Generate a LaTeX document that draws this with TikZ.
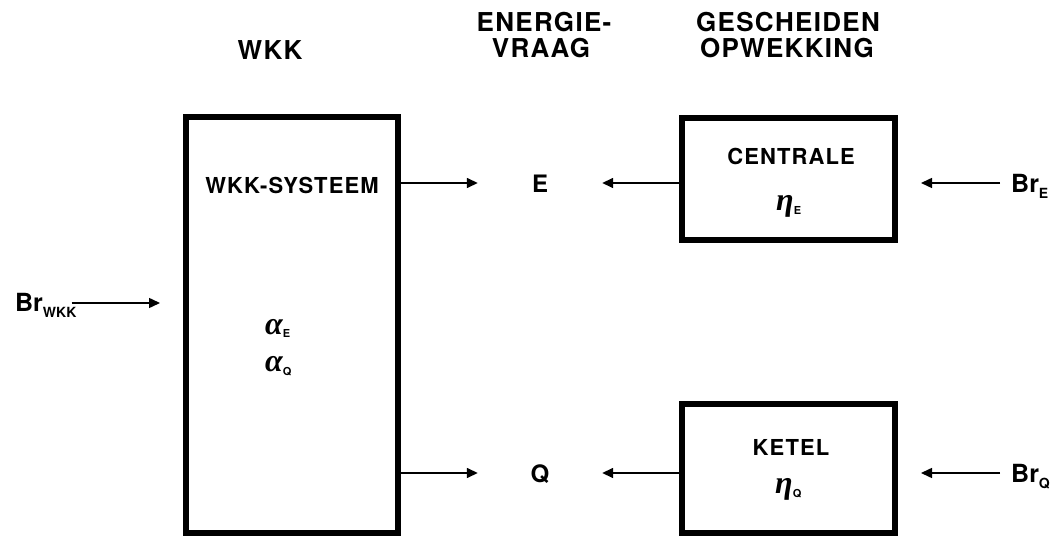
\documentclass[tikz,border=0pt]{standalone}
\usepackage{fontspec}
\setmainfont{TeX Gyre Heros}
\newfontfamily\hvhead[LetterSpace=5]{TeX Gyre Heros}
\newfontfamily\hvlab[LetterSpace=5]{TeX Gyre Heros}
\newfontfamily\grkfont{Liberation Serif}
\usetikzlibrary{arrows.meta}
\newcommand\grsub[2]{\raisebox{#1}{\fontsize{11}{11}\selectfont\upshape\sffamily\rmfamily\bfseries #2}}
\newcommand\brsub[1]{\raisebox{-6pt}{\fontsize{14}{14}\selectfont\bfseries #1}}
\tikzset{
  blockbox/.style={draw, line width=6pt, inner sep=0pt},
  arr/.style={line width=1.5pt, -{Triangle[length=11pt,width=10pt]}},
  headtxt/.style={inner sep=0pt, anchor=base, font=\hvhead\bfseries\fontsize{26}{26}\selectfont},
  labtxt/.style={inner sep=0pt, anchor=base, font=\hvlab\bfseries\fontsize{22}{22}\selectfont},
  flowtxt/.style={inner sep=0pt, anchor=base, text height=20pt, text depth=0pt, minimum width=124pt, font=\bfseries\fontsize{24}{24}\selectfont},
  brtxt/.style={inner sep=0pt, text depth=0pt, font=\bfseries\fontsize{25}{25}\selectfont},
  greek/.style={inner sep=0pt, anchor=base west}
}
\newcommand\grk[1]{{\grkfont\bfseries\itshape\fontsize{32}{32}\selectfont #1}}
\begin{document}
\begin{tikzpicture}[x=1pt,y=1pt]
\useasboundingbox (0,0) rectangle (1061,536);
% boxes
\node[blockbox, minimum width=212pt, minimum height=415.5pt] (wkk) at (292,210.75) {};
\node[blockbox, minimum width=213pt, minimum height=122pt] (centrale) at (788,357) {};
\node[blockbox, minimum width=213pt, minimum height=128.5pt] (ketel) at (788,67.25) {};
% headers
\node[headtxt] (hwkk) at (270,476.5) {WKK};
\node[headtxt] (hen1) at (544,504) {ENERGIE-};
\node[headtxt] (hen2) at (541,478) {VRAAG};
\node[headtxt] (hge1) at (788,504) {GESCHEIDEN};
\node[headtxt] (hge2) at (787,478) {OPWEKKING};
% labels in boxes
\node[labtxt] (lwkk) at (292,342.5) {WKK-SYSTEEM};
\node[greek] (aE) at (265,201) {\grk{α}\grsub{-3pt}{E}};
\node[greek] (aQ) at (265,164) {\grk{α}\grsub{-4pt}{Q}};
\node[labtxt] (lcen) at (791,371) {CENTRALE};
\node[greek] (eE) at (776,325.5) {\grk{η}\grsub{-4.5pt}{E}};
\node[labtxt] (lket) at (791,81) {KETEL};
\node[greek] (eQ) at (775,43) {\grk{η}\grsub{-4.5pt}{Q}};
% energy demand
\node[flowtxt] (E) at (540,343) {E};
\node[flowtxt] (Q) at (540,53) {Q};
% fuel inputs
\node[brtxt, anchor=base west, text height=20pt] (brE) at (1011,343) {Br\brsub{E}};
\node[brtxt, anchor=base west, text height=20pt] (brQ) at (1011,53) {Br\brsub{Q}};
\node[brtxt, anchor=base west, text height=18pt] (brW) at (15,224) {Br\brsub{WKK}};
% connectors
\draw[arr] (wkk.east |- E.west) -- (E.west);
\draw[arr] (wkk.east |- Q.west) -- (Q.west);
\draw[arr] (centrale.west |- E.east) -- (E.east);
\draw[arr] (ketel.west |- Q.east) -- (Q.east);
\draw[arr, shorten <=11pt, shorten >=23.5pt] (brE.west) -- (brE.west -| centrale.east);
\draw[arr, shorten <=11pt, shorten >=23.5pt] (brQ.west) -- (brQ.west -| ketel.east);
\draw[arr, shorten <=-5pt, shorten >=23pt] (brW.east) -- (brW.east -| wkk.west);
\end{tikzpicture}
\end{document}
